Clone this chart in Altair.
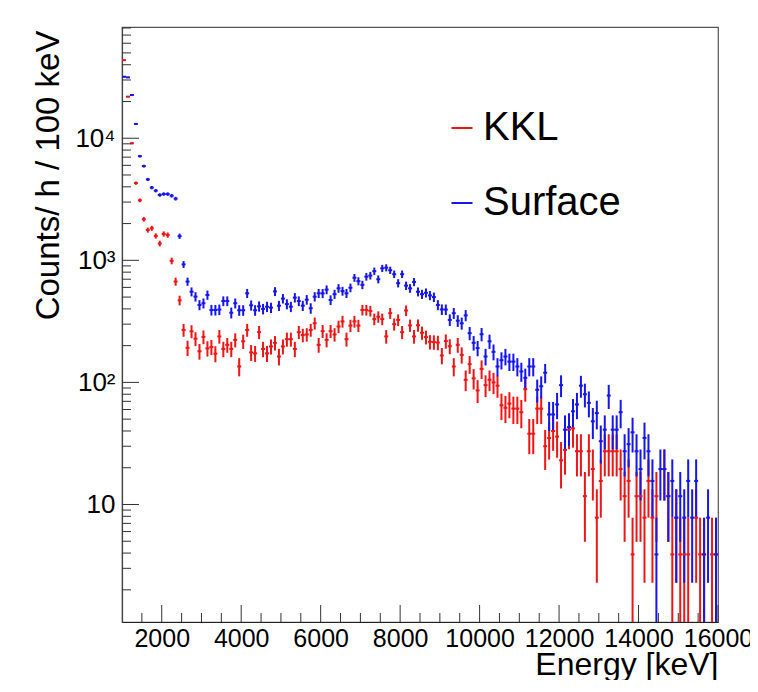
import altair as alt
import pandas as pd

# ---- data (counts/h per 100 keV bin, bins from 1000 keV) ----
energy_start = 1000
bin_width = 100
unit = 3.9  # counts/h corresponding to one recorded count (sets the Poisson error bars)

series_names = ["KKL", "Surface"]
series_colors = ["#ee1515", "#1515ee"]

kkl = [43600, 21900, 9100, 4290, 3100, 2170, 1770, 1830, 1585, 1373,
       1645, 1610, 990, 670, 470, 269, 192, 262, 228, 180,
       236, 190, 195, 172, 238, 188, 203, 188, 223, 135,
       217, 269, 176, 173, 258, 188, 173, 197, 211, 163,
       197, 226, 226, 188, 258, 244, 247, 269, 305, 203,
       263, 223, 263, 247, 287, 316, 226, 292, 316, 292,
       392, 392, 385, 330, 345, 330, 238, 369, 300, 325,
       258, 388, 293, 238, 294, 255, 235, 215, 214, 212,
       166, 218, 198, 135, 203, 168, 105, 141, 108, 86,
       129, 95, 105, 100, 94, 65, 62, 67, 61, 61,
       57, 88, 38, 38, 61, 61, 30, 35, 40, 36,
       23, 28, 41, 42, 27.3, 27.3, 11.7, 27.3, 19.5, 7.8,
       15.6, 27.3, 27.3, 27.3, 27.3, 19.5, 11.7, 15.6, 3.9, 11.7,
       11.7, 7.8, 15.6, 7.8, 11.7, 0, 19.5, 11.7, 3.9, 7.8,
       3.9, 3.9, 3.9, 0, 7.8, 3.9, 3.9, 0, 3.9, 3.9]

surface = [31900, 31500, 22600, 13100, 7130, 5910, 4600, 3940, 3720, 3430,
           3490, 3490, 3380, 3200, 1577, 926, 670, 553, 504, 431,
           445, 520, 392, 392, 395, 464, 464, 372, 445, 390,
           390, 537, 428, 390, 420, 400, 417, 410, 556, 425,
           486, 438, 417, 495, 464, 425, 476, 405, 504, 537,
           536, 575, 473, 528, 590, 560, 537, 596, 720, 675,
           630, 735, 750, 815, 700, 860, 870, 830, 770, 650,
           770, 620, 590, 665, 553, 528, 542, 516, 500, 431,
           396, 395, 325, 369, 320, 305, 354, 253, 211, 191,
           248, 163, 217, 178, 135, 152, 163, 148, 148, 135,
           123, 109, 135, 135, 87, 93, 120, 54.6, 54.6, 66,
           95, 41, 43, 58, 66, 94, 80, 68, 48, 56,
           33, 41, 78, 41, 41, 57, 27.3, 31.2, 39, 27.3,
           19.5, 35.1, 27.3, 15.6, 3.9, 19.5, 19.5, 11.7, 15.6, 7.8,
           11.7, 7.8, 15.6, 7.8, 15.6, 0, 3.9, 7.8, 0, 3.9]

y_major = [10, 100, 1000, 10000]
y_minor = [m * d for d in (1, 10, 100, 1000, 10000) for m in range(2, 10) if m * d < 81000]
x_major = [2000, 4000, 6000, 8000, 10000, 12000, 14000, 16000]
x_minor = [v for v in range(1500, 16000, 500) if v % 2000 != 0]

# ---- table ----
rows = []
for name, vals in zip(series_names, (kkl, surface)):
    for i, v in enumerate(vals):
        if v <= 0:
            continue
        err = (v * unit) ** 0.5
        e = energy_start + bin_width * (i + 0.5)
        rows.append(dict(series=name, E=e, Elo=e - bin_width / 2, Ehi=e + bin_width / 2,
                         v=v, lo=max(v - err, 1e-3), hi=v + err))
df = pd.DataFrame(rows)

W, H = 596, 595
FONT = "Liberation Sans"

xscale = alt.Scale(domain=[1000, 16000], nice=False, zero=False)
yscale = alt.Scale(type="log", domain=[1.09, 81500], nice=False)

label_expr = ("datum.value == 10 ? '10' : datum.value == 100 ? '10\u00b2' : "
              "datum.value == 1000 ? '10\u00b3' : '10\u2074'")

x_axis = alt.Axis(values=x_major, format="d", ticks=False, tickSize=0, grid=False,
                  labelOverlap=False, labelFlush=False, labelFontSize=25, labelFont=FONT,
                  labelColor="black", labelPadding=4, domainColor="#222",
                  title="Energy [keV]", titleFontSize=32,
                  titleFont=FONT, titleFontWeight="normal", titleColor="black",
                  titleAnchor="end", titleAlign="right", titleY=52,
                  titleBaseline="alphabetic")
y_axis = alt.Axis(values=y_major, labelExpr=label_expr, ticks=False, tickSize=0,
                  grid=False, labelOverlap=False, labelFlush=False, labelFontSize=26,
                  labelFont=FONT, labelColor="black", labelPadding=7, domainColor="#444",
                  title="Counts/ h / 100 keV", titleFontSize=33, titleFont=FONT,
                  titleFontWeight="normal", titleColor="black", titleAngle=270,
                  titleX=-64, titleY=3, titleAlign="right", titleBaseline="alphabetic")

color = alt.Color("series:N", scale=alt.Scale(domain=series_names, range=series_colors),
                  legend=alt.Legend(title=None, orient="none", legendX=320, legendY=81,
                                    symbolType="stroke", symbolSize=441, symbolStrokeWidth=2,
                                    labelFontSize=40, labelFont=FONT, labelColor="black",
                                    rowPadding=35, labelOffset=1, padding=0, labelLimit=400))

vbars = alt.Chart(df).mark_rule(strokeWidth=2, clip=True).encode(
    x=alt.X("E:Q", scale=xscale, axis=x_axis),
    y=alt.Y("lo:Q", scale=yscale, axis=y_axis),
    y2="hi:Q",
    color=color,
)

hbars = alt.Chart(df).mark_rule(strokeWidth=2, clip=True).encode(
    x=alt.X("Elo:Q", scale=xscale, axis=x_axis),
    x2="Ehi:Q",
    y=alt.Y("v:Q", scale=yscale, axis=y_axis),
    color=color,
)

tick_color = "#333"
ymaj = alt.Chart(pd.DataFrame({"t": y_major})).mark_rule(color=tick_color, strokeWidth=1).encode(
    y=alt.Y("t:Q", scale=yscale, axis=y_axis), x=alt.value(0), x2=alt.value(17))
ymin = alt.Chart(pd.DataFrame({"t": y_minor})).mark_rule(color=tick_color, strokeWidth=1).encode(
    y=alt.Y("t:Q", scale=yscale, axis=y_axis), x=alt.value(0), x2=alt.value(9))
xmaj = alt.Chart(pd.DataFrame({"t": x_major})).mark_rule(color=tick_color, strokeWidth=1).encode(
    x=alt.X("t:Q", scale=xscale, axis=x_axis), y=alt.value(H), y2=alt.value(H - 17))
xmin = alt.Chart(pd.DataFrame({"t": x_minor})).mark_rule(color=tick_color, strokeWidth=1).encode(
    x=alt.X("t:Q", scale=xscale, axis=x_axis), y=alt.value(H), y2=alt.value(H - 9))

chart = alt.layer(vbars, hbars, ymaj, ymin, xmaj, xmin).properties(
    width=W, height=H,
    autosize=alt.AutoSizeParams(type="none"),
    padding={"left": 114, "top": 19, "right": 32, "bottom": 58},
).configure_view(stroke="#555", strokeWidth=1.2).configure_axis(domainWidth=1.2)

chart.save("out.html", embed_options={"renderer": "svg", "actions": False})
